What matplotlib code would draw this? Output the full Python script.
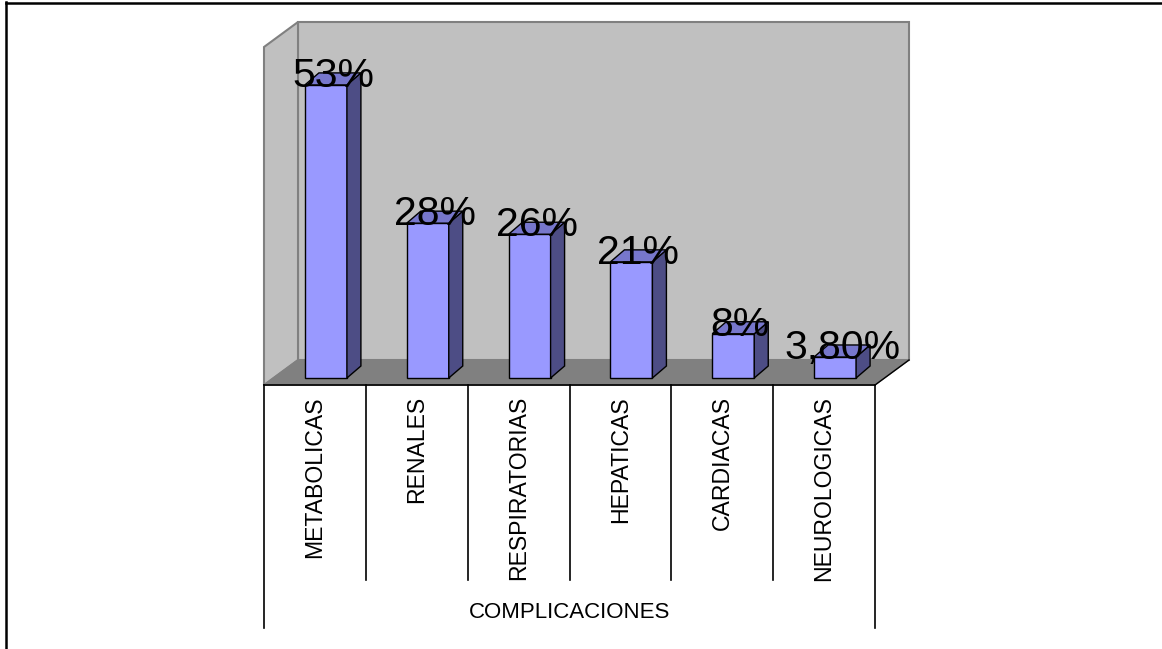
import matplotlib
matplotlib.use('Agg')
import matplotlib.pyplot as plt
from matplotlib.patches import Polygon
from matplotlib.lines import Line2D

plt.rcParams['font.family'] = ['Liberation Sans', 'DejaVu Sans']

# data
categories = ['METABOLICAS', 'RENALES', 'RESPIRATORIAS', 'HEPATICAS', 'CARDIACAS', 'NEUROLOGICAS']
values = [53, 28, 26, 21, 8, 3.8]
value_labels = ['53%', '28%', '26%', '21%', '8%', '3,80%']
axis_title = 'COMPLICACIONES'

W, H = 1162, 649
fig = plt.figure(figsize=(W / 100, H / 100), dpi=100)

# axes: x in categories, y in percent; 3D look is done with offsets
px_cat = (875 - 264) / 6.0
px_pct = 5.53
base_px = 378          # pixel row of value 0 (bar base)
ax_top_px, ax_bot_px = 22, 385
ax = fig.add_axes([264 / W, 1 - ax_bot_px / H, 611 / W, (ax_bot_px - ax_top_px) / H])
ax.set_xlim(-0.5, 5.5)
ax.set_ylim((base_px - ax_bot_px) / px_pct, (base_px - ax_top_px) / px_pct)
ax.axis('off')

# depth offsets (data units)
fdx, fdy = 34 / px_cat, 25 / px_pct        # floor depth
floor_front = (base_px - 385) / px_pct
floor_back = floor_front + fdy
wall_top = ax.get_ylim()[1]
bdx, bdy = 14 / px_cat, 12 / px_pct        # bar depth
bar_shift = 11 / px_cat
bar_w = 42 / px_cat

def poly(pts, fc, ec, lw, z):
    ax.add_patch(Polygon(pts, closed=True, facecolor=fc, edgecolor=ec, linewidth=lw,
                         zorder=z, clip_on=False, joinstyle='miter'))

# back wall, side wall, floor
poly([(-0.5 + fdx, floor_back), (5.5 + fdx, floor_back), (5.5 + fdx, wall_top), (-0.5 + fdx, wall_top)],
     '#C0C0C0', '#808080', 1.5, 1)
poly([(-0.5, floor_front), (-0.5 + fdx, floor_back), (-0.5 + fdx, wall_top), (-0.5, wall_top - fdy)],
     '#C0C0C0', '#808080', 1.5, 1)
poly([(-0.5, floor_front), (5.5, floor_front), (5.5 + fdx, floor_back), (-0.5 + fdx, floor_back)],
     '#808080', '#808080', 1.0, 2)
ax.plot([5.5, 5.5 + fdx], [floor_front, floor_back], color='black', lw=1.0, zorder=3, clip_on=False)

# bars
for i, v in enumerate(values):
    x0 = i + bar_shift - bar_w / 2
    x1 = x0 + bar_w
    ax.bar(x0, v, width=bar_w, align='edge', color='#9999FF', edgecolor='black', linewidth=1.0, zorder=4)
    poly([(x1, 0), (x1 + bdx, bdy), (x1 + bdx, v + bdy), (x1, v)], '#4D4D85', 'black', 1.0, 4)
    poly([(x0, v), (x1, v), (x1 + bdx, v + bdy), (x0 + bdx, v + bdy)], '#7777CC', 'black', 1.0, 4)
    ax.text(i + bar_shift + bdx / 2, v - 0.4, value_labels[i], ha='center', va='baseline',
            fontsize=29.5, color='black', zorder=6)

# category table under the floor
tbl_inner = (base_px - 580) / px_pct
tbl_outer = (base_px - 628) / px_pct
ax.plot([-0.5, 5.5], [floor_front, floor_front], color='black', lw=1.2, zorder=3, clip_on=False)
for k in range(7):
    bottom = tbl_outer if k in (0, 6) else tbl_inner
    ax.plot([k - 0.5, k - 0.5], [floor_front, bottom], color='black', lw=1.2, zorder=3, clip_on=False)
for i, name in enumerate(categories):
    ax.text(i, (base_px - 396) / px_pct, name, rotation=90, ha='center', va='top', fontsize=16.6)
ax.text(2.5, (base_px - 613) / px_pct, axis_title, ha='center', va='center', fontsize=16)

# outer frame (only top and left visible)
fig.add_artist(Line2D([6 / W, 6 / W], [0, 1 - 2 / H], color='black', lw=1.8))
fig.add_artist(Line2D([6 / W, 1], [1 - 2.5 / H, 1 - 2.5 / H], color='black', lw=1.8))

fig.savefig('out.png', dpi=100, facecolor='white')
